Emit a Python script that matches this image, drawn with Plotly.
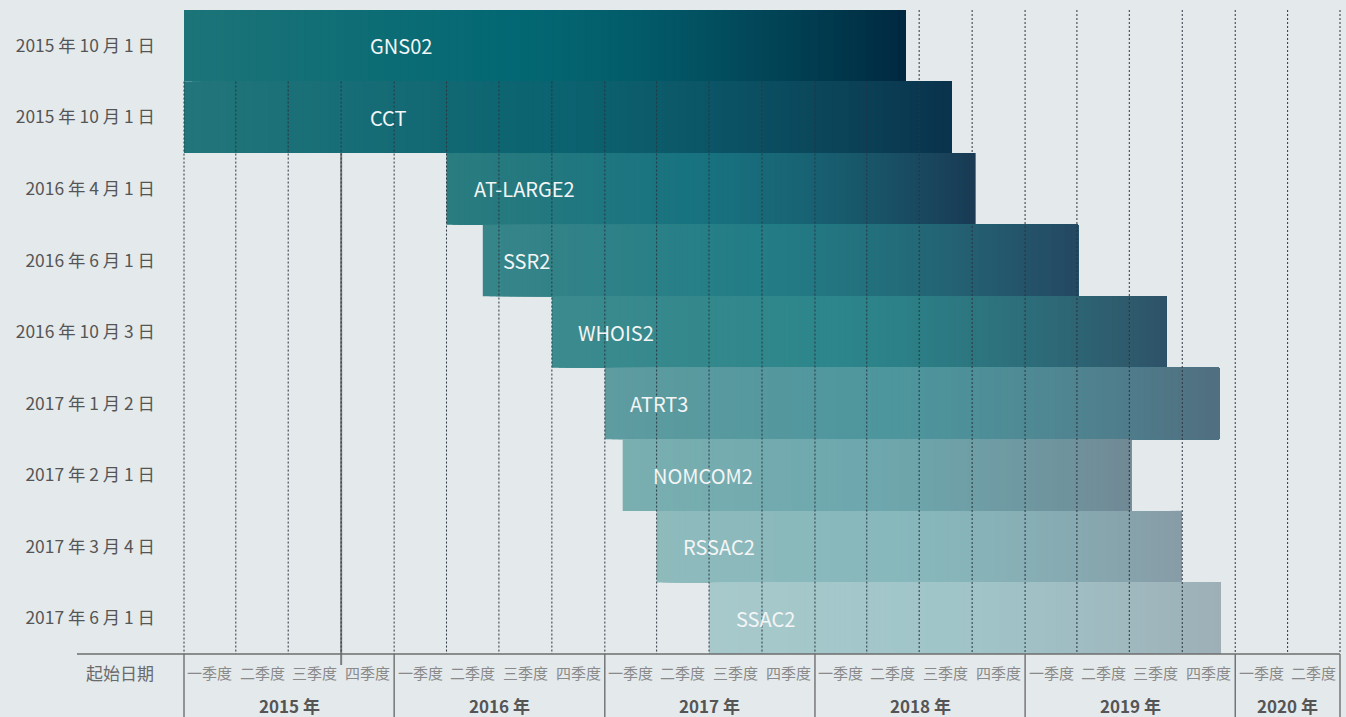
import pandas as pd
import plotly.graph_objects as go

# ---------------- data ----------------
names = ["GNS02", "CCT", "AT-LARGE2", "SSR2", "WHOIS2", "ATRT3", "NOMCOM2", "RSSAC2", "SSAC2"]
start_labels = ["2015 年 10 月 1 日", "2015 年 10 月 1 日", "2016 年 4 月 1 日", "2016 年 6 月 1 日",
                "2016 年 10 月 3 日", "2017 年 1 月 2 日", "2017 年 2 月 1 日", "2017 年 3 月 4 日",
                "2017 年 6 月 1 日"]
label_dates = ["2015-10-01", "2015-10-01", "2016-04-01", "2016-06-01", "2016-10-03",
               "2017-01-02", "2017-02-01", "2017-03-04", "2017-06-01"]
bar_start = ["2015-01-01", "2015-01-01", "2016-04-01", "2016-06-03", "2016-10-01",
             "2017-01-01", "2017-02-01", "2017-04-01", "2017-07-01"]
bar_end = ["2018-06-08", "2018-08-27", "2018-10-06", "2019-04-03", "2019-09-04",
           "2019-12-04", "2019-07-04", "2019-09-30", "2019-12-07"]
quarter_names = ["一季度", "二季度", "三季度", "四季度"]
year_labels = ["2015 年", "2016 年", "2017 年", "2018 年", "2019 年", "2020 年"]
axis_start = "2015-01-01"
axis_end = "2020-07-01"
marker_date = "2015-10-01"
axis_title = "起始日期"

# ---------------- style ----------------
FONT = "Noto Sans CJK SC"
BG = "#e4e9ec"
W, H = 1346, 717
ML, MR, MT, MB = 184, 6, 10, 63
PW, PH = W - ML - MR, H - MT - MB
N = 90
bar_colors = [  # left, middle, right
    ((28, 116, 120), (3, 104, 115), (0, 40, 64)),
    ((34, 118, 123), (12, 100, 113), (10, 50, 76)),
    ((42, 124, 127), (24, 115, 128), (25, 58, 84)),
    ((55, 133, 137), (35, 125, 134), (36, 72, 97)),
    ((60, 139, 142), (44, 134, 139), (46, 82, 103)),
    ((94, 156, 160), (78, 150, 157), (80, 110, 128)),
    ((122, 175, 176), (110, 168, 174), (112, 137, 149)),
    ((142, 186, 188), (135, 184, 188), (135, 156, 166)),
    ((167, 201, 203), (160, 197, 201), (158, 175, 183)),
]
text_shift = [27, 27, 25, 18, 23, 23, 28, 24, 25]


def grad(stops, t):
    left, mid, end = stops
    if t <= 0.45:
        u = t / 0.45
        c = [l + (m - l) * u for l, m in zip(left, mid)]
    else:
        u = ((t - 0.45) / 0.55) ** 1.4
        c = [m + (e - m) * u for m, e in zip(mid, end)]
    return "rgb(%d,%d,%d)" % tuple(round(v) for v in c)


origin = pd.Timestamp(axis_start)


def d(s):
    return (pd.Timestamp(s) - origin).days


total = d(axis_end)

fig = go.Figure()
for i, nm in enumerate(names):
    s, e = d(bar_start[i]), d(bar_end[i])
    w = (e - s) / N
    bases = [s + k * w for k in range(N)]
    lengths = [e - b for b in bases]
    cols = [grad(bar_colors[i], (k + 0.5) / N) for k in range(N)]
    fig.add_trace(go.Bar(
        y=[i] * N, x=lengths, base=bases, orientation="h", width=1,
        marker=dict(color=cols, line=dict(width=0)),
        hoverinfo="skip", showlegend=False, name=nm))

shapes = []
annotations = []

# solid marker line (behind bars)
shapes.append(dict(type="line", xref="paper", yref="paper",
                   x0=d(marker_date) / total, x1=d(marker_date) / total,
                   y0=1, y1=-11 / PH, layer="below",
                   line=dict(color="#7b7e81", width=2)))

# dotted quarter grid lines (above bars, hidden by the top bar)
quarters = pd.date_range(axis_start, axis_end, freq="QS")
g0s, g0e = d(bar_start[0]), d(bar_end[0])
for q in quarters:
    xd = d(q)
    top = 0.5 if g0s <= xd <= g0e else -0.5
    shapes.append(dict(type="line", xref="paper", yref="y",
                       x0=xd / total, x1=xd / total, y0=top, y1=len(names) - 0.5,
                       layer="above",
                       line=dict(color="#2a353e", width=1, dash="2px,2px")))

# year separators below axis
year_starts = [d(pd.Timestamp(year=int(y[:4]), month=1, day=1)) for y in year_labels] + [total]
for xd in year_starts:
    shapes.append(dict(type="line", xref="paper", yref="paper",
                       x0=xd / total, x1=xd / total, y0=0, y1=-MB / PH,
                       layer="above", line=dict(color="#5a5a5a", width=1.2)))

# axis line
shapes.append(dict(type="line", xref="paper", yref="paper",
                   x0=-(ML - 77) / PW, x1=1, y0=0, y1=0, layer="above",
                   line=dict(color="#6e6e6e", width=1.5)))

# quarter labels
for qi in range(len(quarters) - 1):
    a, b = d(quarters[qi]), d(quarters[qi + 1])
    annotations.append(dict(x=(a + b) / 2, xref="x", y=0, yref="paper",
                            yanchor="middle", yshift=-18, showarrow=False,
                            text=quarter_names[quarters[qi].quarter - 1],
                            font=dict(family=FONT, size=15, color="#8a8a8a")))

# year labels
for k, yl in enumerate(year_labels):
    a, b = year_starts[k], year_starts[k + 1]
    annotations.append(dict(x=(a + b) / 2, xref="x", y=0, yref="paper",
                            yanchor="middle", yshift=-51, borderpad=0,
                            showarrow=False, text=yl,
                            font=dict(family=FONT, size=17, color="#555555",
                                      weight="bold")))

annotations.append(dict(x=0, xref="paper", xanchor="center", xshift=-64,
                        y=0, yref="paper", yanchor="middle", yshift=-18,
                        showarrow=False, text=axis_title,
                        font=dict(family=FONT, size=17, color="#6a6a6a")))

# bar texts
for i, nm in enumerate(names):
    xt = max(d(bar_start[i]), d(label_dates[i]))
    annotations.append(dict(x=xt, xref="x", y=i, yref="y", xanchor="left",
                            xshift=text_shift[i], showarrow=False, text=nm,
                            font=dict(family=FONT, size=20, color="#f3f5f6")))

fig.update_layout(
    width=W, height=H,
    margin=dict(l=ML, r=MR, t=MT, b=MB, pad=0),
    paper_bgcolor=BG, plot_bgcolor=BG,
    barmode="overlay",
    shapes=shapes, annotations=annotations,
    xaxis=dict(range=[0, total], showgrid=False, zeroline=False,
               showticklabels=False, showline=False, fixedrange=True),
    yaxis=dict(range=[len(names) - 0.5, -0.5], tickvals=list(range(len(names))),
               ticktext=start_labels, showgrid=False, zeroline=False,
               showline=False, ticks="", ticklabelstandoff=28,
               tickfont=dict(family=FONT, size=17.4, color="#555555"),
               fixedrange=True),
    font=dict(family=FONT),
)

fig.write_html("out.html",
               config={"displayModeBar": False},
               post_script="document.body.style.margin='0';"
                           "document.body.style.overflow='hidden';"
                           "document.body.style.background='%s';" % BG)
